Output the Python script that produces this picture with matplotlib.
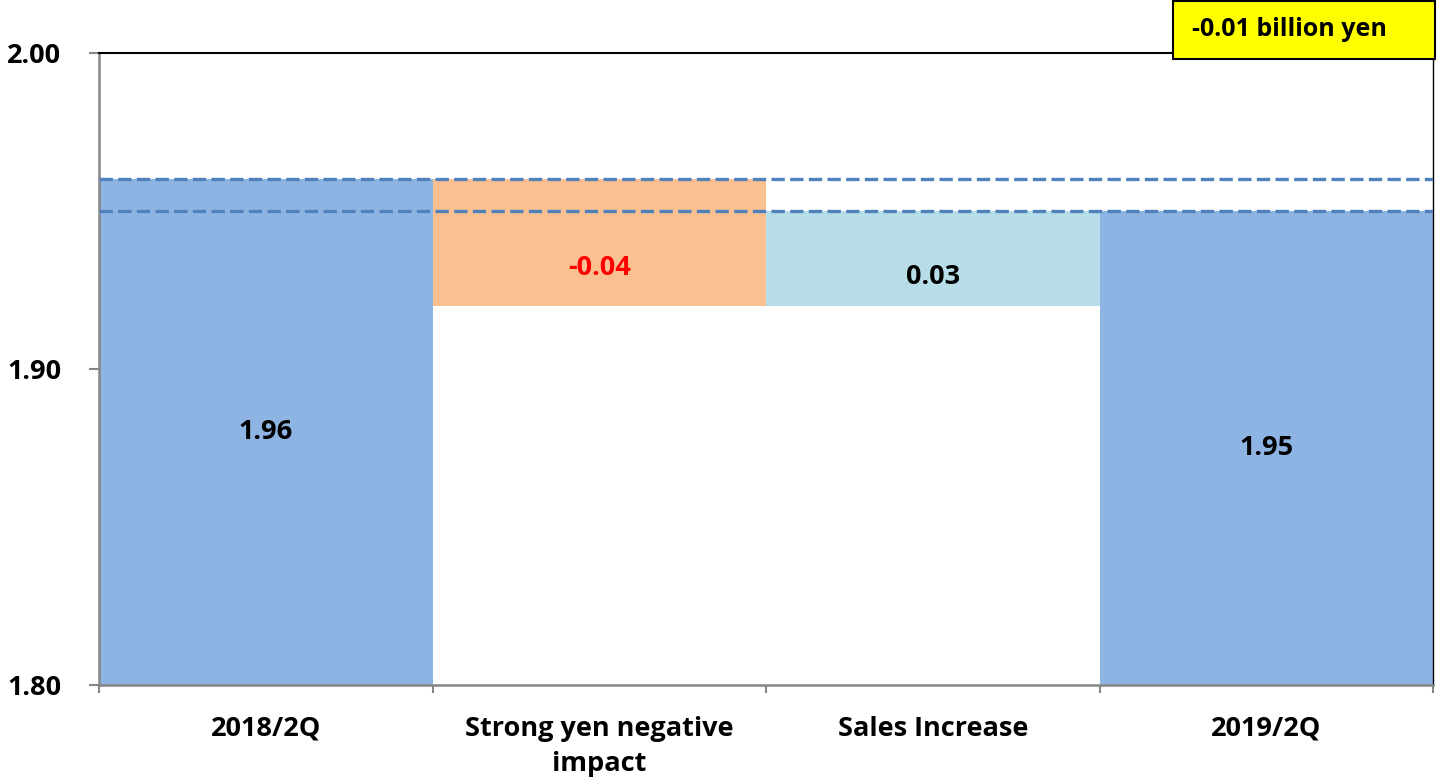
import numpy as np
import matplotlib.pyplot as plt
from matplotlib.patches import Rectangle

plt.rcParams["font.family"] = ["Open Sans", "DejaVu Sans"]
plt.rcParams["font.weight"] = "bold"

# waterfall: start total, two changes, end total
categories = ["2018/2Q", "Strong yen negative\nimpact", "Sales Increase", "2019/2Q"]
start_value = 1.96
changes = [-0.04, 0.03]
end_value = 1.95
unit = "billion yen"

BASE = 1.80
C_TOTAL = "#8eb4e3"
C_NEG = "#fac090"
C_POS = "#b7dde8"
C_DASH = "#4f81bd"
C_GRAY = "#868686"
FS = 19.5

fig = plt.figure(figsize=(14.38, 7.79), dpi=100)
ax = fig.add_axes([99 / 1438, 1 - 685 / 779, (1433 - 99) / 1438, (685 - 53) / 779])

x = np.arange(len(categories))

# totals
ax.bar(x[0], start_value - BASE, bottom=BASE, width=1.0, color=C_TOTAL, zorder=2)
ax.bar(x[3], end_value - BASE, bottom=BASE, width=1.0, color=C_TOTAL, zorder=2)
ax.text(x[0], BASE + (start_value - BASE) / 2, "%.2f" % start_value,
        ha="center", va="center", fontsize=FS, fontweight="bold", color="black", zorder=4)
ax.text(x[3], BASE + (end_value - BASE) / 2, "%.2f" % end_value,
        ha="center", va="center", fontsize=FS, fontweight="bold", color="black", zorder=4)

# floating change bars
level = start_value
for i, d in enumerate(changes):
    lo = min(level, level + d)
    color = C_NEG if d < 0 else C_POS
    ax.bar(x[i + 1], abs(d), bottom=lo, width=1.0, color=color, zorder=2)
    ax.text(x[i + 1], lo + 0.3 * abs(d), "%.2f" % d, ha="center", va="center",
            fontsize=FS, fontweight="bold", color="red" if d < 0 else "black", zorder=4)
    level += d

# reference lines at start and end levels
for v in (start_value, end_value):
    ax.axhline(v, color=C_DASH, linestyle=(0, (4, 1.6)), linewidth=2.4, zorder=3)

ax.set_xlim(-0.5, len(categories) - 0.5)
ax.set_ylim(BASE, 2.00)
ax.set_yticks([1.80, 1.90, 2.00])
ax.set_yticklabels(["1.80", "1.90", "2.00"], fontsize=FS, fontweight="bold")
ax.tick_params(axis="y", direction="out", length=7, width=1.5, color=C_GRAY, pad=20)

# category labels centered, ticks at boundaries
ax.set_xticks(x)
ax.set_xticklabels(categories, fontsize=FS, fontweight="bold", linespacing=1.45)
ax.tick_params(axis="x", which="major", length=0, pad=22)
ax.set_xticks(np.arange(-0.5, len(categories)), minor=True)
ax.tick_params(axis="x", which="minor", direction="out", length=6, width=1.5, color=C_GRAY)

for side in ("left", "bottom"):
    ax.spines[side].set_color(C_GRAY)
    ax.spines[side].set_linewidth(1.8)
ax.spines["top"].set_color("black")
ax.spines["top"].set_linewidth(1.5)
ax.spines["right"].set_color("black")
ax.spines["right"].set_linewidth(1.0)

# net change box
net = end_value - start_value
fig.patches.append(Rectangle((1173 / 1438, 1 - 59 / 779), 262 / 1438, 58 / 779,
                             transform=fig.transFigure, facecolor="#ffff00",
                             edgecolor="black", linewidth=1.5, zorder=5))
fig.text(1192 / 1438, 1 - 30 / 779, "%.2f %s" % (net, unit), ha="left", va="center",
         fontsize=18, fontweight="bold", color="black", zorder=6)

fig.savefig("out.png", dpi=100)
